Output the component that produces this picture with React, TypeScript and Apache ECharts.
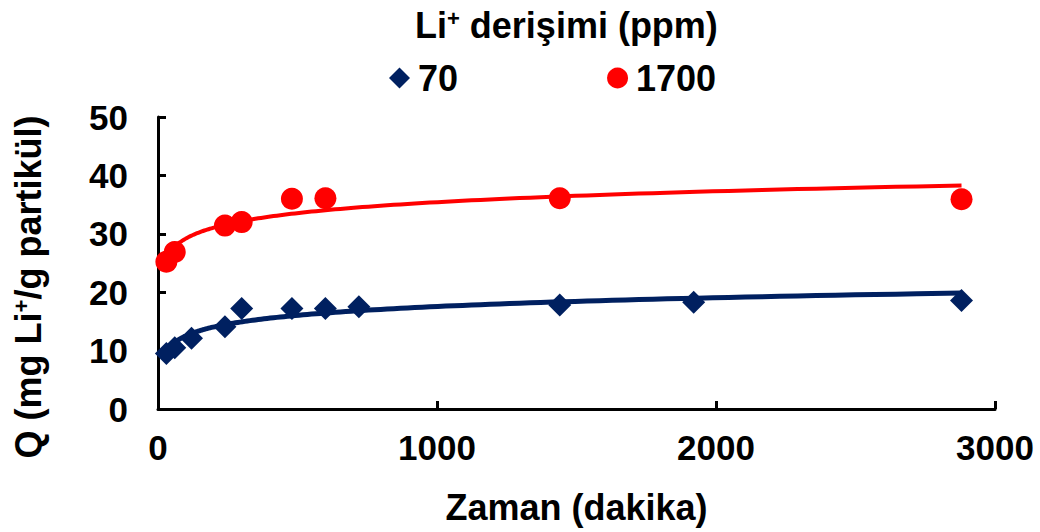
import React, { useEffect, useRef } from "react";
import * as echarts from "echarts";

// Time (minutes) and adsorption capacity Q (mg Li+/g particle)
const timeBlue = [30, 60, 120, 240, 300, 480, 600, 720, 1440, 1920, 2880];
const qBlue = [9.5, 10.5, 12.1, 14.1, 17.2, 17.2, 17.2, 17.5, 17.8, 18.3, 18.6];
const timeRed = [30, 60, 240, 300, 480, 600, 1440, 2880];
const qRed = [25.2, 26.9, 31.4, 32.0, 36.0, 36.1, 36.1, 35.9];

const seriesNames = ["70", "1700"];
const xTicks = [0, 1000, 2000, 3000];
const yTicks = [0, 10, 20, 30, 40, 50];

const FONT = "'Liberation Sans', Arial, Helvetica, sans-serif";
const BLUE = "#002060";
const RED = "#FF0000";

// logarithmic least-squares trendline (like Excel's "Logarithmic" trendline)
function logTrend(xs: number[], ys: number[]) {
  const n = xs.length;
  const lx = xs.map((x) => Math.log(x));
  const mx = lx.reduce((s, v) => s + v, 0) / n;
  const my = ys.reduce((s, v) => s + v, 0) / n;
  let sxy = 0;
  let sxx = 0;
  for (let i = 0; i < n; i++) {
    sxy += (lx[i] - mx) * (ys[i] - my);
    sxx += (lx[i] - mx) * (lx[i] - mx);
  }
  const a = sxy / sxx;
  const b = my - a * mx;
  const x0 = Math.min(...xs);
  const x1 = Math.max(...xs);
  const pts: number[][] = [];
  const steps = 80;
  for (let i = 0; i <= steps; i++) {
    const x = x0 * Math.pow(x1 / x0, i / steps);
    pts.push([x, a * Math.log(x) + b]);
  }
  return pts;
}

export default function App() {
  const ref = useRef<HTMLDivElement>(null);
  useEffect(() => {
    if (!ref.current) return;
    const chart = echarts.init(ref.current, null, { renderer: "svg" });
    const labelStyle = { fontFamily: FONT, fontWeight: "bold" as const, color: "#000" };
    chart.setOption({
      animation: false,
      title: {
        text: "{a|Li}{s|+}{a| derişimi (ppm)}",
        left: 410,
        top: 2,
        textStyle: {
          rich: {
            a: { ...labelStyle, fontSize: 36 },
            s: { ...labelStyle, fontSize: 22, verticalAlign: "top" },
          },
        },
      },
      legend: {
        data: seriesNames,
        left: 384,
        top: 55,
        itemWidth: 21,
        itemHeight: 21,
        itemGap: 149,
        selectedMode: false,
        textStyle: { ...labelStyle, fontSize: 36, padding: [0, 0, 0, 3] },
      },
      grid: { left: 158, right: 45, top: 117, bottom: 123 },
      xAxis: {
        type: "value",
        min: xTicks[0],
        max: xTicks[xTicks.length - 1],
        interval: 1000,
        name: "Zaman (dakika)",
        nameLocation: "middle",
        nameGap: 80,
        nameTextStyle: { ...labelStyle, fontSize: 36 },
        axisLine: { show: true, lineStyle: { color: "#000", width: 3 } },
        axisTick: { show: true, inside: true, length: 8, lineStyle: { color: "#000", width: 3 } },
        splitLine: { show: false },
        axisLabel: { ...labelStyle, fontSize: 35, margin: 21, formatter: (v: number) => String(v) },
      },
      yAxis: {
        type: "value",
        min: yTicks[0],
        max: yTicks[yTicks.length - 1],
        interval: 10,
        axisLine: { show: true, lineStyle: { color: "#000", width: 3 } },
        axisTick: { show: true, inside: true, length: 8, lineStyle: { color: "#000", width: 3 } },
        splitLine: { show: false },
        axisLabel: { ...labelStyle, fontSize: 35, margin: 30 },
      },
      graphic: [
        {
          type: "text",
          x: 28,
          y: 287,
          rotation: Math.PI / 2,
          style: {
            text: "{a|Q (mg Li}{s|+}{a|/g partikül)}",
            align: "center",
            verticalAlign: "middle",
            rich: {
              a: { ...labelStyle, fontSize: 36 },
              s: { ...labelStyle, fontSize: 22, verticalAlign: "top" },
            },
          },
        },
      ],
      series: [
        {
          type: "line",
          data: logTrend(timeBlue, qBlue),
          showSymbol: false,
          smooth: true,
          lineStyle: { color: BLUE, width: 5 },
          z: 1,
          silent: true,
        },
        {
          type: "line",
          data: logTrend(timeRed, qRed),
          showSymbol: false,
          smooth: true,
          lineStyle: { color: RED, width: 4 },
          z: 1,
          silent: true,
        },
        {
          name: seriesNames[0],
          type: "scatter",
          symbol: "diamond",
          symbolSize: 23,
          itemStyle: { color: BLUE, opacity: 1 },
          data: timeBlue.map((t, i) => [t, qBlue[i]]),
          z: 3,
        },
        {
          name: seriesNames[1],
          type: "scatter",
          symbol: "circle",
          symbolSize: 22,
          itemStyle: { color: RED, opacity: 1 },
          data: timeRed.map((t, i) => [t, qRed[i]]),
          z: 3,
        },
      ],
    });
    return () => chart.dispose();
  }, []);
  return (
    <div
      ref={ref}
      style={{ position: "fixed", left: 0, top: 0, width: 1040, height: 532, background: "#fff" }}
    />
  );
}
